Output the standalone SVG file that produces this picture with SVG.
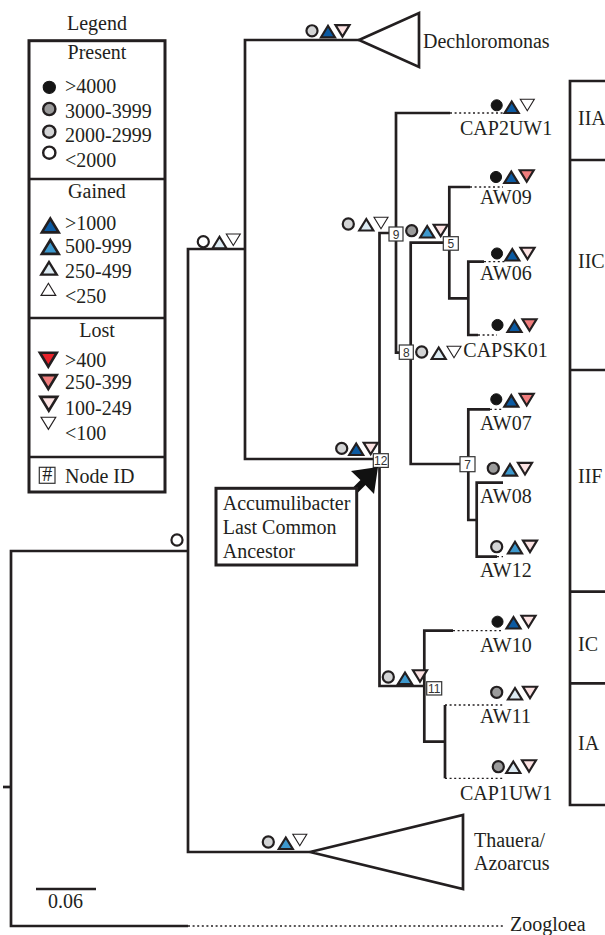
<svg xmlns="http://www.w3.org/2000/svg" xmlns:xlink="http://www.w3.org/1999/xlink" width="605" height="935" viewBox="0 0 605 935">
<style>
.t{font-family:"Liberation Serif","Times New Roman",serif;font-size:20px;fill:#231f20}
.mid{text-anchor:middle}
.ln{fill:none;stroke:#231f20;stroke-width:2.7;stroke-linejoin:miter}
.dot{fill:none;stroke:#231f20;stroke-width:1.3;stroke-dasharray:2 2.6}
.box{fill:#fff;stroke:#231f20;stroke-width:3}
.nb{fill:#fff;stroke:#333;stroke-width:1.2}
.nt{font-family:"Liberation Sans",Arial,sans-serif;font-size:12px;text-anchor:middle;fill:#333}
.s{stroke:#231f20;stroke-width:2.2;stroke-linejoin:miter}
.thin{fill:#fff;stroke:#231f20;stroke-width:1.1;stroke-linejoin:miter}
.c1{fill:#151515;stroke:#151515;stroke-width:1}
.c2{fill:#9b9b9b}
.c3{fill:#d3d4d5}
.c4{fill:#fff}
.g1{fill:#0b5aa2}
.g2{fill:#3d98cd}
.g3{fill:#dcebf3}
.l1{fill:#e8232b}
.l2{fill:#f07d7d}
.l3{fill:#fde3e3}
</style>
<defs>
<circle id="ci" r="5.55"/>
<path id="up" d="M-7,5.75 H7 L0,-5.75 Z"/>
<path id="dn" d="M-7,-5.75 H7 L0,5.75 Z"/>
</defs>

<g id="legend">
<text class="t mid" x="97" y="30" font-size="21">Legend</text>
<rect class="box" x="29" y="40.7" width="136" height="451.3"/>
<path class="ln" d="M29,179 H165 M29,318 H165 M29,457 H165" stroke-width="3"/>
<text class="t mid" x="97" y="59">Present</text>
<use href="#ci" class="c1" transform="translate(49.3,87.3) scale(1.1)"/>
<use href="#ci" class="s c2" transform="translate(49.3,109) scale(1.1)"/>
<use href="#ci" class="s c3" transform="translate(49.3,131.7) scale(1.1)"/>
<use href="#ci" class="s c4" transform="translate(49.3,152.7) scale(1.1)"/>
<text class="t" x="65" y="93">&gt;4000</text>
<text class="t" x="65" y="118">3000-3999</text>
<text class="t" x="65" y="141.5">2000-2999</text>
<text class="t" x="65" y="166.5">&lt;2000</text>
<text class="t mid" x="97" y="198">Gained</text>
<use href="#up" class="s g1" transform="translate(50.3,225.5) scale(1.2)"/>
<use href="#up" class="s g2" transform="translate(50.3,247) scale(1.2)"/>
<use href="#up" class="s g3" transform="translate(49,268.3) scale(1.1)"/>
<use href="#up" class="thin" transform="translate(48.4,289.3) scale(1.05)"/>
<text class="t" x="65" y="230">&gt;1000</text>
<text class="t" x="65" y="253">500-999</text>
<text class="t" x="65" y="278">250-499</text>
<text class="t" x="65" y="303">&lt;250</text>
<text class="t mid" x="97" y="337">Lost</text>
<use href="#dn" class="s l1" transform="translate(48.3,359.7) scale(1.2)"/>
<use href="#dn" class="s l2" transform="translate(48.3,382) scale(1.2)"/>
<use href="#dn" class="s l3" transform="translate(48.8,403.8) scale(1.2)"/>
<use href="#dn" class="thin" transform="translate(48.4,423.3) scale(1.05)"/>
<text class="t" x="65" y="366.5">&gt;400</text>
<text class="t" x="65" y="388.5">250-399</text>
<text class="t" x="65" y="415">100-249</text>
<text class="t" x="65" y="440">&lt;100</text>
<rect class="nb" x="39.3" y="467.3" width="15.7" height="16"/>
<text class="t mid" x="47.2" y="480.5" font-size="15">#</text>
<text class="t" x="65" y="483">Node ID</text>
</g>

<g id="connectors">
<path class="ln" d="M188,926 H11 V551 H188"/>
<path class="ln" d="M3,787 H11"/>
<path class="ln" d="M310,852 H188 V249 H245"/>
<path class="ln" d="M359,40 H245 V459 H379.5"/>
<path class="ln" d="M389,233 H379.5 V686 H424.3"/>
<path class="ln" d="M450,113 H396 V352.7 H411"/>
<path class="ln" d="M449.3,242.7 H410.7 V464 H468.3"/>
<path class="ln" d="M470,187 H449.3 V298.3 H468.3"/>
<path class="ln" d="M484,261.7 H468.3 V335 H478"/>
<path class="ln" d="M490,409.3 H468.3 V520 H476.7"/>
<path class="ln" d="M503,482.7 H476.7 V556.7 H497"/>
<path class="ln" d="M453,630.7 H424.3 V741.7 H445"/>
<path class="ln" d="M445,705 V778.3"/>
<path class="dot" d="M188,926 H503 M450,113 H503 M470,187 H503 M484,261.7 H505 M478,335 H497 M490,409.3 H503 M497,556.7 H503 M453,630.7 H503 M445,705 H503 M445,778.3 H503"/>
</g>

<g id="clade-dechloromonas">
<polygon class="ln" points="359,40 419,13 419,67" fill="#fff"/>
<text class="t" x="423" y="48">Dechloromonas</text>
<g transform="translate(312,37.3)"><use href="#ci" class="s c3" y="-6.5"/><use href="#up" class="s g1" x="16" y="-5.75"/><use href="#dn" class="s l3" x="30.5" y="-6.5"/></g>
</g>

<g id="clade-thauera">
<polygon class="ln" points="310,852 463,815 463,889" fill="#fff"/>
<text class="t" x="474" y="847">Thauera/</text>
<text class="t" x="474" y="870">Azoarcus</text>
<g transform="translate(268.3,849)"><use href="#ci" class="s c3" y="-7"/><use href="#up" class="s g2" x="17.5" y="-5.75"/><use href="#dn" class="thin" x="31.5" y="-9"/></g>
</g>

<g id="leaf-zoogloea"><text class="t" x="510" y="930.5">Zoogloea</text></g>

<g id="node-root"><use href="#ci" class="s c4" x="177" y="540"/></g>

<g id="node-a"><g transform="translate(203.3,248.3)"><use href="#ci" class="s c4" y="-6.6"/><use href="#up" class="s g3" x="16.2" y="-5.75"/><use href="#dn" class="thin" x="30" y="-8.5"/></g></g>

<g id="node-12">
<g transform="translate(341.7,455)"><use href="#ci" class="s c3" y="-6.6"/><use href="#up" class="s g1" x="14.5" y="-5.75"/><use href="#dn" class="s l3" x="29" y="-6.5"/></g>
<rect class="nb" x="373.3" y="453.7" width="15" height="13.7"/><text class="nt" x="380.8" y="465">12</text>
</g>

<g id="node-9">
<g transform="translate(348.3,230.5)"><use href="#ci" class="s c3" y="-6.5"/><use href="#up" class="s g3" x="18" y="-5.75"/><use href="#dn" class="thin" x="32.7" y="-7.5"/></g>
<rect class="nb" x="389" y="227" width="14" height="14"/><text class="nt" x="396" y="238.5">9</text>
</g>

<g id="node-5">
<g transform="translate(411.7,237.5)"><use href="#ci" class="s c2" y="-6.8"/><use href="#up" class="s g2" x="15.5" y="-5.75"/><use href="#dn" class="s l3" x="29" y="-7"/></g>
<rect class="nb" x="443.3" y="236.7" width="15" height="13.5"/><text class="nt" x="450.8" y="248">5</text>
</g>

<g id="node-8">
<rect class="nb" x="399.3" y="345" width="14" height="14.3"/><text class="nt" x="406.3" y="356.5">8</text>
<g transform="translate(421.7,359)"><use href="#ci" class="s c3" y="-7"/><use href="#up" class="s g3" x="17" y="-5.75"/><use href="#dn" class="thin" x="32.3" y="-7"/></g>
<text class="t" x="463.3" y="357">CAPSK01</text>
</g>

<g id="node-7"><rect class="nb" x="460" y="456.7" width="15" height="15"/><text class="nt" x="467.5" y="468.5">7</text></g>

<g id="node-11">
<g transform="translate(388.3,684)"><use href="#ci" class="s c3" y="-7"/><use href="#up" class="s g2" x="16.7" y="-5.75"/><use href="#dn" class="s l3" x="31.7" y="-8"/></g>
<rect class="nb" x="426.7" y="681.7" width="15" height="13.3"/><text class="nt" x="434.2" y="692.8">11</text>
</g>

<g id="leaf-cap2uw1">
<g transform="translate(496.7,113)"><use href="#ci" class="c1" y="-7.7"/><use href="#up" class="s g1" x="15" y="-5.75"/><use href="#dn" class="thin" x="30.6" y="-8"/></g>
<text class="t" x="460" y="135">CAP2UW1</text>
</g>
<g id="leaf-aw09">
<g transform="translate(496,183)"><use href="#ci" class="c1" y="-6"/><use href="#up" class="s g1" x="15.3" y="-5.75"/><use href="#dn" class="s l2" x="30.7" y="-7"/></g>
<text class="t" x="480" y="204">AW09</text>
</g>
<g id="leaf-aw06">
<g transform="translate(497,260.5)"><use href="#ci" class="c1" y="-7"/><use href="#up" class="s g1" x="15.3" y="-5.75"/><use href="#dn" class="s l3" x="30.5" y="-7"/></g>
<text class="t" x="480" y="280">AW06</text>
</g>
<g id="leaf-capsk01">
<g transform="translate(497.5,332)"><use href="#ci" class="c1" y="-7"/><use href="#up" class="s g1" x="17" y="-5.75"/><use href="#dn" class="s l2" x="32" y="-7"/></g>
</g>
<g id="leaf-aw07">
<g transform="translate(496.3,406.7)"><use href="#ci" class="c1" y="-7.4"/><use href="#up" class="s g1" x="15" y="-5.75"/><use href="#dn" class="s l2" x="30.4" y="-7"/></g>
<text class="t" x="480" y="430">AW07</text>
</g>
<g id="leaf-aw08">
<g transform="translate(493.3,475.7)"><use href="#ci" class="s c2" y="-7.4"/><use href="#up" class="s g2" x="16.7" y="-5.75"/><use href="#dn" class="s l3" x="31.7" y="-7"/></g>
<text class="t" x="480" y="503">AW08</text>
</g>
<g id="leaf-aw12">
<g transform="translate(496.7,553.3)"><use href="#ci" class="s c3" y="-6.6"/><use href="#up" class="s g2" x="18.3" y="-5.75"/><use href="#dn" class="s l3" x="33.3" y="-7"/></g>
<text class="t" x="480" y="577">AW12</text>
</g>
<g id="leaf-aw10">
<g transform="translate(497.5,628.5)"><use href="#ci" class="c1" y="-6.8"/><use href="#up" class="s g1" x="16" y="-5.75"/><use href="#dn" class="s l3" x="31" y="-7"/></g>
<text class="t" x="480" y="652">AW10</text>
</g>
<g id="leaf-aw11">
<g transform="translate(496.7,699.5)"><use href="#ci" class="s c2" y="-7.2"/><use href="#up" class="s g3" x="18.3" y="-5.75"/><use href="#dn" class="s l3" x="33.3" y="-7"/></g>
<text class="t" x="480" y="723.3">AW11</text>
</g>
<g id="leaf-cap1uw1">
<g transform="translate(498.3,773)"><use href="#ci" class="s c2" y="-6.3"/><use href="#up" class="s g3" x="15" y="-5.75"/><use href="#dn" class="s l3" x="30.7" y="-7"/></g>
<text class="t" x="460" y="800">CAP1UW1</text>
</g>

<g id="lca-callout">
<path d="M366,479.5 L352,493.5" stroke="#111" stroke-width="7" fill="none"/>
<polygon points="378,467 351,471 362,481.5 374,494" fill="#111"/>
<rect class="box" x="216" y="488.3" width="140.7" height="76.7"/>
<text class="t" x="222.7" y="510">Accumulibacter</text>
<text class="t" x="222.7" y="534">Last Common</text>
<text class="t" x="222.7" y="558">Ancestor</text>
</g>

<g id="clades">
<path class="ln" stroke-width="3" d="M620,81 H570 V805 H620 M570,160 H620 M570,370 H620 M570,591.7 H620 M570,683.3 H620"/>
<text class="t" x="578" y="125">IIA</text>
<text class="t" x="578" y="268">IIC</text>
<text class="t" x="578" y="483">IIF</text>
<text class="t" x="578" y="651">IC</text>
<text class="t" x="578" y="750">IA</text>
</g>

<g id="scale-bar">
<path class="ln" stroke-width="2.2" d="M36,889 H96"/>
<text class="t" x="48" y="908" font-size="19">0.06</text>
</g>
</svg>
